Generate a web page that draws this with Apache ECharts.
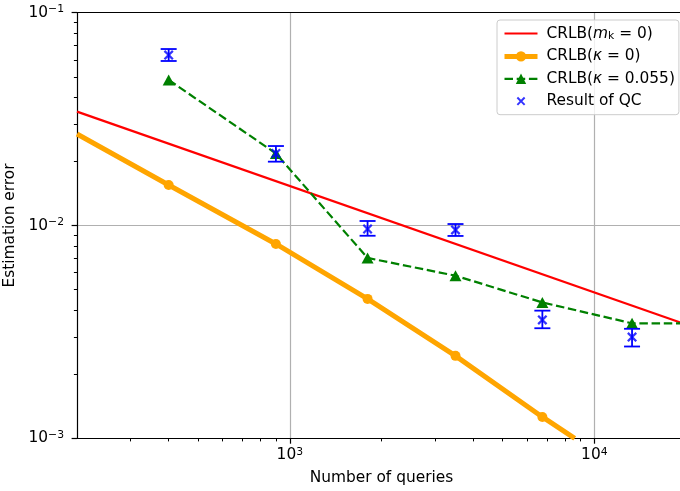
<!DOCTYPE html>
<html>
<head>
<meta charset="utf-8">
<script src="https://cdn.jsdelivr.net/npm/echarts@6/dist/echarts.min.js"></script>
<style>
  html, body { margin: 0; padding: 0; background: #fff; }
  #chart { width: 680px; height: 491px; }
</style>
</head>
<body>
<div id="chart"></div>
<script>
// number of queries of each run
const queries = [400, 900, 1800, 3500, 6750, 13300]

// CRLB(m_k = 0), one straight line over the whole x range
const crlbMkX = [200, 20000]
const crlbMk = [0.0343, 0.00343]

// CRLB(kappa = 0), first and last point only carry the line to the frame
const crlbK0X = [200, 400, 900, 1800, 3500, 6750, 8620]
const crlbK0 = [0.0269, 0.0155, 0.00819, 0.00452, 0.00244, 0.00126, 0.001]

// CRLB(kappa = 0.055), last point only carries the dashes to the edge
const crlbK055X = [400, 900, 1800, 3500, 6750, 13300, 20000]
const crlbK055 = [0.0483, 0.0218, 0.00704, 0.00581, 0.00435, 0.00347, 0.00347]

// result of QC with its error bars
const qc = [0.0632, 0.0218, 0.00963, 0.00953, 0.0036, 0.00299]
const qcLow = [0.0593, 0.01995, 0.00895, 0.00893, 0.00329, 0.0027]
const qcHigh = [0.0675, 0.02363, 0.0105, 0.01016, 0.00398, 0.00327]

// tick values
const xMajor = [1000, 10000]
const xMinor = [300, 400, 500, 600, 700, 800, 900, 2000, 3000, 4000, 5000, 6000, 7000, 8000, 9000]
const yMajor = [0.001, 0.01, 0.1]
const yMinor = [0.002, 0.003, 0.004, 0.005, 0.006, 0.007, 0.008, 0.009,
                0.02, 0.03, 0.04, 0.05, 0.06, 0.07, 0.08, 0.09]

const FONT = 'DejaVu Sans'
const FS = 15.4

// X marker, thick cross; the padded one is for the legend box
const xMark = 'path://M0,1.6L1.6,0L5,3.4L8.4,0L10,1.6L6.6,5L10,8.4L8.4,10L5,6.6L1.6,10L0,8.4L3.4,5Z'
const xMarkLegend = 'path://M-2.5,-2.5M12.5,12.5M0,1.6L1.6,0L5,3.4L8.4,0L10,1.6L6.6,5L10,8.4L8.4,10L5,6.6L1.6,10L0,8.4L3.4,5Z'

const legendText = {
    'CRLB(m_k=0)': '{g|}{t|CRLB(}{i|m}{sub|k}{t| = 0)}',
    'CRLB(κ=0)': '{g|}{t|CRLB(}{i|κ}{t| = 0)}',
    'CRLB(κ=0.055)': '{g|}{t|CRLB(}{i|κ}{t| = 0.055)}',
    'Result of QC': '{g|}{t|Result of QC}'
}

// 10^n label as rich text
const powLabel = (v) => {
    const e = Math.round(Math.log10(v))
    return '{b|10}{sup|' + String(e).replace('-', '\u2212') + '}'
}
const powRich = {
    b: {fontFamily: FONT, fontSize: FS, lineHeight: 18, verticalAlign: 'middle', color: '#000'},
    sup: {fontFamily: FONT, fontSize: 10.8, lineHeight: 10, verticalAlign: 'top', color: '#000'}
}

// points, with the listed indexes drawn without marker
const pts = (xs, ys, bare) => xs.map((x, i) =>
    bare.includes(i) ? {value: [x, ys[i]], symbol: 'none'} : [x, ys[i]])

const logAxis = (extra) => Object.assign({
    type: 'log',
    logBase: 10,
    axisLine: {show: false},
    axisTick: {show: false},
    axisLabel: {show: false},
    splitLine: {show: false},
    minorTick: {show: false}
}, extra)

const chart = echarts.init(document.getElementById('chart'))
const option = {
    animation: false,
    backgroundColor: '#fff',
    textStyle: {fontFamily: FONT},
    grid: {left: 77, right: -6, top: 12.7, bottom: 52.7, containLabel: false, outerBoundsMode: 'none'},
    xAxis: [
        logAxis({
            min: 200, max: 20000, position: 'bottom',
            name: 'Number of queries', nameLocation: 'middle', nameGap: 32,
            nameTextStyle: {fontFamily: FONT, fontSize: FS, color: '#000'},
            axisLine: {show: true, lineStyle: {color: '#000', width: 1.2}},
            axisTick: {show: true, length: 5.4, customValues: xMajor, lineStyle: {color: '#000', width: 1.2}},
            axisLabel: {show: true, customValues: xMajor, margin: 8, formatter: powLabel, rich: powRich},
            splitLine: {show: true, lineStyle: {color: '#b0b0b0', width: 1.2}}
        }),
        logAxis({
            min: 200, max: 20000, position: 'bottom',
            axisTick: {show: true, length: 3.1, customValues: xMinor, lineStyle: {color: '#000', width: 1}}
        }),
        logAxis({
            min: 200, max: 20000, position: 'top',
            axisLine: {show: true, lineStyle: {color: '#000', width: 1.2}}
        })
    ],
    yAxis: [
        logAxis({
            min: 0.001, max: 0.1, position: 'left',
            name: 'Estimation error', nameLocation: 'middle', nameGap: 54,
            nameTextStyle: {fontFamily: FONT, fontSize: FS, color: '#000'},
            axisLine: {show: true, lineStyle: {color: '#000', width: 1.2}},
            axisTick: {show: true, length: 5.4, customValues: yMajor, lineStyle: {color: '#000', width: 1.2}},
            axisLabel: {show: true, customValues: yMajor, margin: 13, formatter: powLabel, rich: powRich},
            splitLine: {show: true, lineStyle: {color: '#b0b0b0', width: 1.2}}
        }),
        logAxis({
            min: 0.001, max: 0.1, position: 'left',
            axisTick: {show: true, length: 3.1, customValues: yMinor, lineStyle: {color: '#000', width: 1}}
        })
    ],
    legend: {
        orient: 'vertical',
        left: 497,
        top: 20,
        padding: [6, 4, 6, 5],
        itemWidth: 33,
        itemHeight: 13,
        itemGap: 7.4,
        backgroundColor: 'rgba(255,255,255,0.8)',
        borderColor: '#cccccc',
        borderWidth: 1,
        borderRadius: 3,
        formatter: (name) => legendText[name],
        textStyle: {
            fontFamily: FONT, fontSize: FS, color: '#000',
            rich: {
                g: {width: 4},
                t: {fontFamily: FONT, fontSize: FS, lineHeight: 16, verticalAlign: 'middle'},
                i: {fontFamily: FONT, fontSize: FS, fontStyle: 'italic', lineHeight: 16, verticalAlign: 'middle'},
                sub: {fontFamily: FONT, fontSize: 10.8, lineHeight: 8, verticalAlign: 'bottom'}
            }
        },
        data: [
            {name: 'CRLB(m_k=0)', lineStyle: {width: 2.2}, itemStyle: {opacity: 0}},
            {name: 'CRLB(κ=0)', lineStyle: {width: 5}},
            {name: 'CRLB(κ=0.055)', lineStyle: {width: 2.2, type: [8.5, 3.7]}},
            {name: 'Result of QC', icon: xMarkLegend}
        ]
    },
    series: [
        {
            name: 'CRLB(m_k=0)',
            type: 'line',
            data: pts(crlbMkX, crlbMk, []),
            symbol: 'none',
            lineStyle: {color: 'red', width: 2.2},
            itemStyle: {color: 'red'},
            z: 2
        },
        {
            name: 'CRLB(κ=0)',
            type: 'line',
            data: pts(crlbK0X, crlbK0, [0, 6]),
            symbol: 'circle',
            symbolSize: 10,
            lineStyle: {color: 'orange', width: 5},
            itemStyle: {color: 'orange'},
            z: 3
        },
        {
            name: 'CRLB(κ=0.055)',
            type: 'line',
            data: pts(crlbK055X, crlbK055, [6]),
            symbol: 'triangle',
            symbolSize: [12, 11],
            lineStyle: {color: 'green', width: 2.2, type: [8.5, 3.7]},
            itemStyle: {color: 'green'},
            z: 4
        },
        {
            name: 'qcErr',
            type: 'custom',
            z: 5,
            silent: true,
            data: queries.map((q, i) => [q, qcLow[i], qcHigh[i]]),
            encode: {x: 0, y: [1, 2]},
            renderItem: (params, api) => {
                const lo = api.coord([api.value(0), api.value(1)])
                const hi = api.coord([api.value(0), api.value(2)])
                const cap = 8
                const style = {stroke: 'blue', lineWidth: 1.8}
                return {
                    type: 'group',
                    children: [
                        {type: 'line', shape: {x1: lo[0], y1: lo[1], x2: hi[0], y2: hi[1]}, style},
                        {type: 'line', shape: {x1: lo[0] - cap, y1: lo[1], x2: lo[0] + cap, y2: lo[1]}, style},
                        {type: 'line', shape: {x1: hi[0] - cap, y1: hi[1], x2: hi[0] + cap, y2: hi[1]}, style}
                    ]
                }
            }
        },
        {
            name: 'Result of QC',
            type: 'scatter',
            data: queries.map((q, i) => [q, qc[i]]),
            symbol: xMark,
            symbolSize: 10,
            itemStyle: {color: 'blue'},
            z: 6
        }
    ]
}

chart.setOption(option)

window.addEventListener('resize', () => {
    chart.resize()
})
</script>
</body>
</html>
